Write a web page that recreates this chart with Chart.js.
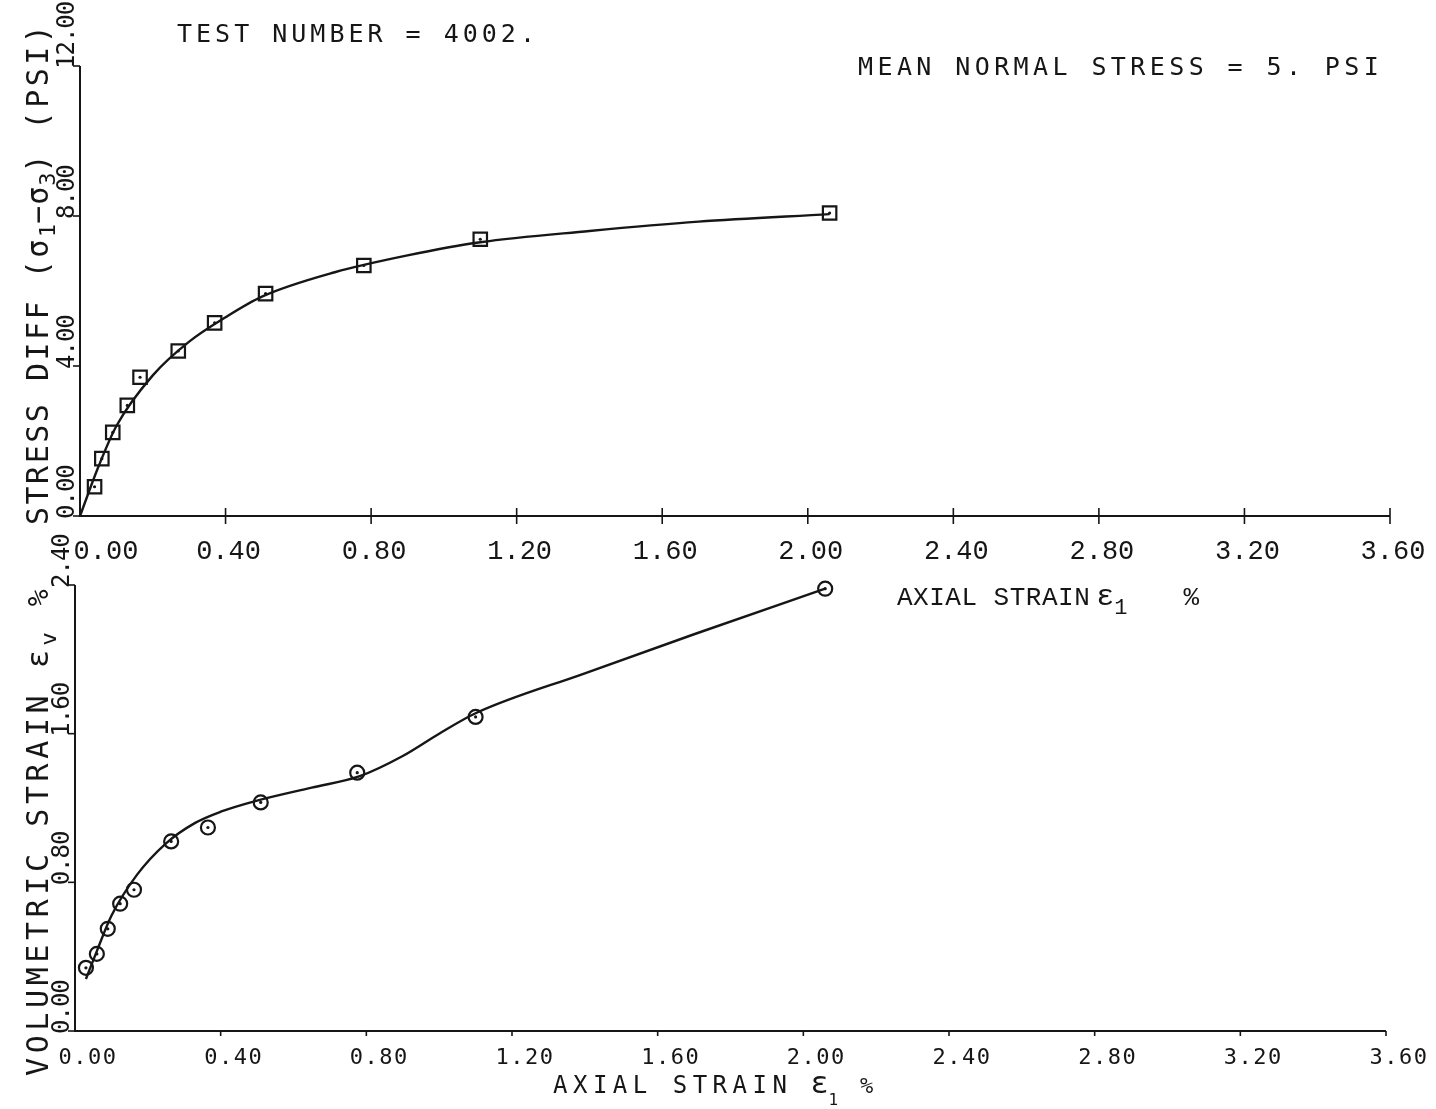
<!DOCTYPE html>
<html>
<head>
<meta charset="utf-8">
<script src="https://cdn.jsdelivr.net/npm/chart.js@4.4.0/dist/chart.umd.min.js"></script>
<style>
    html, body { margin: 0; padding: 0; background: #fff; }
    #wrap { position: relative; width: 1436px; height: 1109px; overflow: hidden; background: #fff; }
    .panel { position: absolute; left: 0; }
    #topPanel { top: 0; }
    #bottomPanel { top: 530px; }
</style>
</head>
<body>
<div id="wrap">
    <div class="panel" id="topPanel"><canvas id="stressChart" width="1436" height="620"></canvas></div>
    <div class="panel" id="bottomPanel"><canvas id="volChart" width="1436" height="579"></canvas></div>
</div>
<script>
// Axial strain axis (both panels)
const strainTicks = [0, 0.4, 0.8, 1.2, 1.6, 2.0, 2.4, 2.8, 3.2, 3.6];
const strainTickLabels = ['0.00', '0.40', '0.80', '1.20', '1.60', '2.00', '2.40', '2.80', '3.20', '3.60'];

// Top panel: stress difference (psi)
const stressTicks = [0, 4, 8, 12];
const stressTickLabels = ['0.00', '4.00', '8.00', '12.00'];
const stressPointStrain = [0.04, 0.06, 0.09, 0.13, 0.165, 0.27, 0.37, 0.51, 0.78, 1.10, 2.06];
const stressPointValue = [0.78, 1.53, 2.23, 2.95, 3.70, 4.40, 5.15, 5.93, 6.68, 7.38, 8.08];
// fitted curve
const stressCurveStrain = [0, 0.05, 0.10, 0.20, 0.30, 0.40, 0.50, 0.70, 0.90, 1.10, 1.40, 1.70, 2.06];
const stressCurveValue = [0, 1.30, 2.40, 3.75, 4.65, 5.30, 5.85, 6.50, 6.95, 7.30, 7.60, 7.85, 8.05];

// Bottom panel: volumetric strain (%)
const volTicks = [0, 0.8, 1.6, 2.4];
const volTickLabels = ['0.00', '0.80', '1.60', '2.40'];
const volPointStrain = [0.03, 0.06, 0.09, 0.124, 0.162, 0.264, 0.365, 0.51, 0.775, 1.10, 2.06];
const volPointValue = [0.34, 0.415, 0.55, 0.685, 0.76, 1.02, 1.095, 1.23, 1.39, 1.69, 2.38];
const volCurveStrain = [0.03, 0.06, 0.10, 0.17, 0.25, 0.33, 0.40, 0.50, 0.65, 0.78, 0.90, 1.00, 1.10, 1.40, 1.70, 2.06];
const volCurveValue = [0.28, 0.43, 0.62, 0.84, 1.01, 1.12, 1.18, 1.24, 1.31, 1.37, 1.48, 1.60, 1.71, 1.925, 2.135, 2.38];

const INK = '#161616';
const PLOTTER = '"DejaVu Sans Mono", monospace';
const TYPEWRITER = '"Liberation Mono", "Courier New", monospace';

function toXY(xs, ys) {
    return xs.map((x, i) => ({ x: x, y: ys[i] }));
}

// draw a run of text pieces along one baseline (optionally rotated)
function drawRun(ctx, x, y, pieces, angle) {
    ctx.save();
    ctx.translate(x, y);
    if (angle) ctx.rotate(angle);
    ctx.fillStyle = INK;
    ctx.textBaseline = 'alphabetic';
    ctx.textAlign = 'left';
    let cx = 0;
    pieces.forEach(p => {
        ctx.font = p.font;
        ctx.letterSpacing = p.spacing || '0px';
        cx += p.dx || 0;
        ctx.fillText(p.text, cx, p.dy || 0);
        cx += ctx.measureText(p.text).width + (p.after || 0);
    });
    ctx.restore();
}

function drawAxes(ctx, area, xScale, yScale, cfg) {
    ctx.save();
    ctx.strokeStyle = INK;
    ctx.lineWidth = 2;
    ctx.beginPath();
    ctx.moveTo(area.left, area.top);
    ctx.lineTo(area.left, area.bottom);
    ctx.lineTo(area.right, area.bottom);
    ctx.stroke();

    // strain ticks
    ctx.lineWidth = 1.6;
    strainTicks.forEach(v => {
        if (v === 0) return;
        const px = xScale.getPixelForValue(v);
        ctx.beginPath();
        ctx.moveTo(px, area.bottom - cfg.tickUp);
        ctx.lineTo(px, area.bottom + cfg.tickDown);
        ctx.stroke();
    });
    // value ticks, pointing left
    cfg.yTicks.forEach(v => {
        const py = yScale.getPixelForValue(v);
        ctx.beginPath();
        ctx.moveTo(area.left - 7, py);
        ctx.lineTo(area.left, py);
        ctx.stroke();
    });
    ctx.restore();

    // rotated value labels, reading bottom to top, starting at the tick
    cfg.yTicks.forEach((v, i) => {
        const py = yScale.getPixelForValue(v);
        drawRun(ctx, area.left - 6, py + 3, [{ text: cfg.yLabels[i], font: '24px ' + PLOTTER, spacing: '-1px' }], -Math.PI / 2);
    });
}

const paperPlugin = {
    id: 'paper',
    afterDraw(chart, args, opts) {
        const ctx = chart.ctx;
        const area = chart.chartArea;
        const xScale = chart.scales.x;
        const yScale = chart.scales.y;

        if (opts.kind === 'stress') {
            drawAxes(ctx, area, xScale, yScale, { tickUp: 8, tickDown: 8, yTicks: stressTicks, yLabels: stressTickLabels });

            // strain labels in typewriter face
            ctx.save();
            ctx.fillStyle = INK;
            ctx.font = '27px ' + TYPEWRITER;
            ctx.textAlign = 'center';
            ctx.textBaseline = 'alphabetic';
            strainTicks.forEach((v, i) => {
                const px = xScale.getPixelForValue(v) + (i === 0 ? 26 : 3);
                ctx.fillText(strainTickLabels[i], px, area.bottom + 43);
            });
            ctx.restore();

            // x title under the top axis
            drawRun(ctx, 897, area.bottom + 89, [
                { text: 'AXIAL STRAIN', font: '26px ' + TYPEWRITER, spacing: '0.5px' },
                { text: 'ε', font: '30px ' + TYPEWRITER, dx: 6 },
                { text: '1', font: '22px ' + TYPEWRITER, dy: 9, after: 56 },
                { text: '%', font: '26px ' + TYPEWRITER }
            ]);

            // y title
            drawRun(ctx, 48, area.bottom + 9, [
                { text: 'STRESS DIFF (σ', font: '30px ' + PLOTTER, spacing: '2.5px' },
                { text: '1', font: '22px ' + PLOTTER, dy: 7 },
                { text: '−σ', font: '30px ' + PLOTTER, spacing: '1px' },
                { text: '3', font: '22px ' + PLOTTER, dy: 7 },
                { text: ') (PSI)', font: '30px ' + PLOTTER, spacing: '3.5px' }
            ], -Math.PI / 2);

            // header lines
            drawRun(ctx, 177, area.top - 24, [{ text: 'TEST NUMBER = 4002.', font: '25px ' + PLOTTER, spacing: '4px' }]);
            drawRun(ctx, 858, area.top + 9, [{ text: 'MEAN NORMAL STRESS = 5. PSI', font: '25px ' + PLOTTER, spacing: '4.4px' }]);
        } else {
            drawAxes(ctx, area, xScale, yScale, { tickUp: 0, tickDown: 5, yTicks: volTicks, yLabels: volTickLabels });

            strainTicks.forEach((v, i) => {
                const px = xScale.getPixelForValue(v) + 13;
                ctx.save();
                ctx.fillStyle = INK;
                ctx.font = '22px ' + PLOTTER;
                ctx.letterSpacing = '1.5px';
                ctx.textAlign = 'center';
                ctx.fillText(strainTickLabels[i], px, area.bottom + 33);
                ctx.restore();
            });

            drawRun(ctx, 553, area.bottom + 62, [
                { text: 'AXIAL STRAIN', font: '24px ' + PLOTTER, spacing: '5.5px' },
                { text: 'ε', font: '30px ' + PLOTTER, dx: 18 },
                { text: '1', font: '16px ' + PLOTTER, dy: 12, after: 22 },
                { text: '%', font: '22px ' + PLOTTER }
            ]);

            drawRun(ctx, 48, area.bottom + 45, [
                { text: 'VOLUMETRIC STRAIN ε', font: '30px ' + PLOTTER, spacing: '4.6px' },
                { text: 'v', font: '22px ' + PLOTTER, dy: 8, after: 26 },
                { text: '%', font: '28px ' + PLOTTER }
            ], -Math.PI / 2);
        }
    }
};

function buildChart(canvasId, kind, padding, yMax, curve, points, pointStyle, pointRadius) {
    return new Chart(document.getElementById(canvasId), {
        type: 'scatter',
        data: {
            datasets: [{
                label: 'fit',
                data: curve,
                showLine: true,
                borderColor: INK,
                borderWidth: 2.4,
                pointRadius: 0,
                cubicInterpolationMode: 'monotone',
                fill: false,
                clip: false
            }, {
                label: 'test points',
                data: points,
                showLine: false,
                pointStyle: pointStyle,
                pointRadius: pointRadius,
                borderWidth: 2.2,
                borderColor: INK,
                backgroundColor: 'rgba(0,0,0,0)',
                clip: false
            }, {
                label: 'centres',
                data: points,
                showLine: false,
                pointRadius: 1.6,
                borderWidth: 0,
                backgroundColor: INK,
                clip: false
            }]
        },
        options: {
            responsive: false,
            animation: false,
            events: [],
            layout: { padding: padding },
            plugins: {
                legend: { display: false },
                tooltip: { enabled: false },
                paper: { kind: kind }
            },
            scales: {
                x: { type: 'linear', display: false, min: 0, max: 3.6 },
                y: { type: 'linear', display: false, min: 0, max: yMax }
            }
        },
        plugins: [paperPlugin]
    });
}

buildChart('stressChart', 'stress', { left: 80, right: 46, top: 66, bottom: 104 }, 12,
    toXY(stressCurveStrain, stressCurveValue), toXY(stressPointStrain, stressPointValue), 'rect', 9.5);

buildChart('volChart', 'vol', { left: 75, right: 50, top: 55, bottom: 78 }, 2.4,
    toXY(volCurveStrain, volCurveValue), toXY(volPointStrain, volPointValue), 'circle', 7);
</script>
</body>
</html>
